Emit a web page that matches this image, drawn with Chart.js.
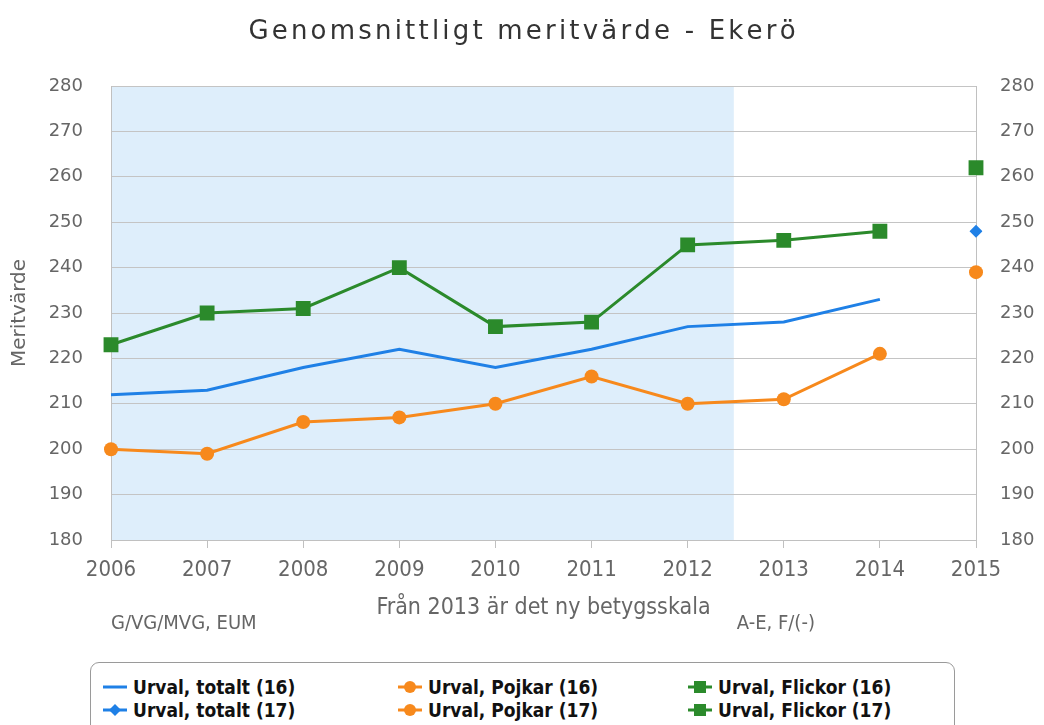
<!DOCTYPE html>
<html>
<head>
<meta charset="utf-8">
<title>Genomsnittligt meritvärde - Ekerö</title>
<script src="https://cdn.jsdelivr.net/npm/chart.js@4"></script>
<style>
  body { margin: 0; background: #fff; }
  #wrap { position: relative; width: 1044px; height: 655px; }
  #legend {
    position: absolute; left: 90px; top: 662px; width: 865px; height: 80px;
    border: 1px solid #9a9a9a; border-radius: 9px; box-sizing: border-box;
  }
  .item {
    position: absolute; display: flex; align-items: center;
    font: bold 19px "Liberation Sans Narrow", "DejaVu Sans Condensed", sans-serif;
    color: #111; white-space: nowrap;
  }
  .item svg { margin-right: 6px; }
</style>
</head>
<body>
<div id="wrap"><canvas id="myChart" width="1044" height="655"></canvas></div>
<div id="legend"></div>
<script>
const years = ["2006", "2007", "2008", "2009", "2010", "2011", "2012", "2013", "2014", "2015"];

const totalt16  = [212, 213, 218, 222, 218, 222, 227, 228, 233, null];
const totalt17  = [null, null, null, null, null, null, null, null, null, 248];
const pojkar16  = [200, 199, 206, 207, 210, 216, 210, 211, 221, null];
const pojkar17  = [null, null, null, null, null, null, null, null, null, 239];
const flickor16 = [223, 230, 231, 240, 227, 228, 245, 246, 248, null];
const flickor17 = [null, null, null, null, null, null, null, null, null, 262];

const yMin = 180, yMax = 280, yStep = 10;
const bandEnd = 6.48; // old grade scale, up to between 2012 and 2013
const chartTitle = "Genomsnittligt meritvärde - Ekerö";
const oldScaleNote = "G/VG/MVG, EUM";
const newScaleNote = "A-E, F/(-)";

const BLUE = "#1f80e6", ORANGE = "#f7891c", GREEN = "#2b8a2b";
const GREY = "#666";

const band = {
  id: "band",
  beforeDraw(chart) {
    const { ctx, chartArea, scales } = chart;
    const x0 = scales.x.getPixelForValue(0);
    const x1 = scales.x.getPixelForValue(bandEnd);
    ctx.save();
    ctx.fillStyle = "#deeefb";
    ctx.fillRect(x0, chartArea.top, x1 - x0, chartArea.bottom - chartArea.top);
    ctx.restore();
  },
  afterDraw(chart) {
    const { ctx, scales } = chart;
    ctx.save();
    // spaced-out title
    ctx.fillStyle = "#333";
    ctx.font = '26px "DejaVu Sans"';
    ctx.textBaseline = "alphabetic";
    ctx.textAlign = "left";
    const spacing = 3.2;
    const chars = Array.from(chartTitle);
    let w = 0;
    chars.forEach(c => { w += ctx.measureText(c).width; });
    w += spacing * (chars.length - 1);
    let x = chart.width / 2 - w / 2;
    chars.forEach(c => { ctx.fillText(c, x, 39); x += ctx.measureText(c).width + spacing; });

    ctx.fillStyle = GREY;
    ctx.font = '20px "DejaVu Sans Condensed", "DejaVu Sans"';
    ctx.textBaseline = "middle";
    ctx.fillText(oldScaleNote, scales.x.getPixelForValue(0), 624);
    ctx.fillText(newScaleNote, scales.x.getPixelForValue(bandEnd) + 3, 624);
    ctx.restore();
  }
};

function ds(label, data, color, style, radius) {
  return {
    label: label,
    data: data,
    borderColor: color,
    backgroundColor: color,
    borderWidth: 3,
    pointStyle: style,
    pointRadius: radius,
    pointHoverRadius: radius,
    pointBorderWidth: 0,
    tension: 0,
    spanGaps: false,
  };
}

const datasets = [
  ds("Urval, totalt (16)", totalt16, BLUE, "circle", 0),
  ds("Urval, Pojkar (16)", pojkar16, ORANGE, "circle", 7),
  ds("Urval, Flickor (16)", flickor16, GREEN, "rect", 10.5),
  ds("Urval, totalt (17)", totalt17, BLUE, "rectRot", 6.5),
  ds("Urval, Pojkar (17)", pojkar17, ORANGE, "circle", 7),
  ds("Urval, Flickor (17)", flickor17, GREEN, "rect", 10.5),
];

const tickFont = { family: "DejaVu Sans", size: 18 };

const chart = new Chart(document.getElementById("myChart"), {
  type: "line",
  data: { labels: years, datasets: datasets },
  plugins: [band],
  options: {
    responsive: false,
    animation: false,
    layout: { padding: { top: 86, right: 0, left: 0, bottom: 0 } },
    plugins: {
      legend: { display: false },
      tooltip: { enabled: false },
      title: { display: false },
    },
    scales: {
      x: {
        offset: false,
        grid: { drawOnChartArea: false, color: "#c0c0c0", tickLength: 8 },
        border: { color: "#c0c0c0" },
        ticks: { color: GREY, font: { family: "DejaVu Sans Condensed", size: 22 }, padding: 9, maxRotation: 0 },
        title: {
          display: true,
          text: "Från 2013 är det ny betygsskala",
          color: GREY,
          font: { family: "DejaVu Sans Condensed", size: 23 },
          padding: { top: 0, bottom: 33 },
        },
        afterFit(scale) { scale.height = 115; },
      },
      y: {
        min: yMin, max: yMax,
        ticks: { stepSize: yStep, color: GREY, font: tickFont, padding: 28 },
        grid: { color: "#c4c4c4", drawTicks: false },
        border: { color: "#c0c0c0" },
        title: { display: true, text: "Meritvärde", color: GREY, font: { family: "DejaVu Sans", size: 20 }, padding: { top: 8, bottom: 0 } },
        afterFit(scale) { scale.width = 111; },
      },
      y2: {
        position: "right",
        min: yMin, max: yMax,
        ticks: { stepSize: yStep, color: GREY, font: tickFont, padding: 24 },
        grid: { drawOnChartArea: false, drawTicks: false },
        border: { color: "#c0c0c0" },
        afterFit(scale) { scale.width = 68; },
      },
    },
  },
});

// legend in three columns, two rows
const legendBox = document.getElementById("legend");
const colX = [12, 307, 597];
chart.data.datasets.forEach(function (d, i) {
  const col = i % 3, row = Math.floor(i / 3);
  const item = document.createElement("div");
  item.className = "item";
  item.style.left = colX[col] + "px";
  item.style.top = (13 + row * 23) + "px";
  let mark = "";
  if (d.pointStyle === "circle" && d.pointRadius > 0) mark = '<circle cx="12" cy="8" r="6" fill="' + d.borderColor + '"/>';
  if (d.pointStyle === "rect") mark = '<rect x="6" y="2" width="12" height="12" fill="' + d.borderColor + '"/>';
  if (d.pointStyle === "rectRot") mark = '<polygon points="12,2 18,8 12,14 6,8" fill="' + d.borderColor + '"/>';
  item.innerHTML = '<svg width="24" height="16"><line x1="0" y1="8" x2="24" y2="8" stroke="' + d.borderColor +
    '" stroke-width="3"/>' + mark + '</svg><span>' + d.label + '</span>';
  legendBox.appendChild(item);
});
</script>
</body>
</html>
